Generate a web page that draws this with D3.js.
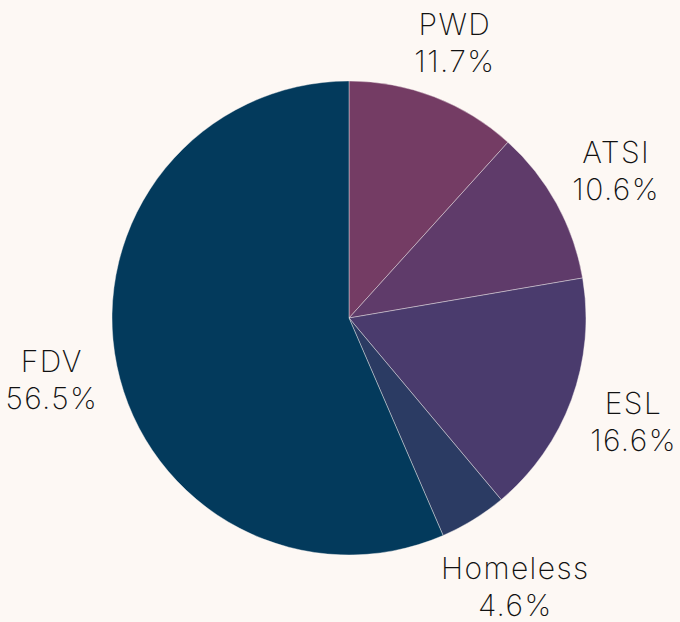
<!DOCTYPE html>
<html>
<head>
<meta charset="utf-8">
<script src="https://cdn.jsdelivr.net/npm/d3@7"></script>
<style>
  body { margin: 0; background: #fdf8f4; }
  svg text { font-family: "Inter", "Noto Sans", sans-serif; font-weight: 200; fill: #111; }
</style>
</head>
<body>
<div id="chart"></div>
<script>
const categories = ["PWD", "ATSI", "ESL", "Homeless", "FDV"];
const shares = [11.7, 10.6, 16.6, 4.6, 56.5];
const colors = ["#743c64", "#5f3b6a", "#4a3b6d", "#2b3b63", "#033a5c"];

const width = 680, height = 622;
const cx = 349, cy = 318;
const radius = 237;
const labelGap = 252;   // distance from centre to the nearest edge of a label
const lineGap = 37;
const halfH = 30;       // half the height of a two line label (cap top to last baseline)

const svg = d3.select("#chart")
    .append("svg")
    .attr("width", width)
    .attr("height", height);

svg.append("rect").attr("width", width).attr("height", height).attr("fill", "#fdf8f4");

const g = svg.append("g").attr("transform", "translate(" + cx + "," + cy + ")");

const pie = d3.pie().sort(null).value(d => d);
const arcs = pie(shares);

const arc = d3.arc().innerRadius(0).outerRadius(radius);

g.selectAll("path")
    .data(arcs)
    .join("path")
    .attr("d", arc)
    .attr("fill", (d, i) => colors[i])
    .attr("stroke", "#fdf8f4")
    .attr("stroke-width", 0.4);

const labels = g.selectAll("text.label")
    .data(arcs)
    .join("text")
    .attr("class", "label")
    .attr("text-anchor", "middle")
    .style("font-size", "30px")
    .style("letter-spacing", "1.4px");

labels.append("tspan")
    .attr("x", 0)
    .attr("y", -halfH + 22)
    .text((d, i) => categories[i]);

labels.append("tspan")
    .attr("x", 0)
    .attr("y", -halfH + 22 + lineGap)
    .text(d => d3.format(".1f")(d.data) + "%");

// push each label out until its box just clears the pie
labels.attr("transform", function (d) {
    const a = (d.startAngle + d.endAngle) / 2;
    const halfW = this.getBBox().width / 2;
    const r = labelGap + halfW * Math.abs(Math.sin(a)) + halfH * Math.abs(Math.cos(a));
    return "translate(" + (r * Math.sin(a)) + "," + (-r * Math.cos(a)) + ")";
});
</script>
</body>
</html>
